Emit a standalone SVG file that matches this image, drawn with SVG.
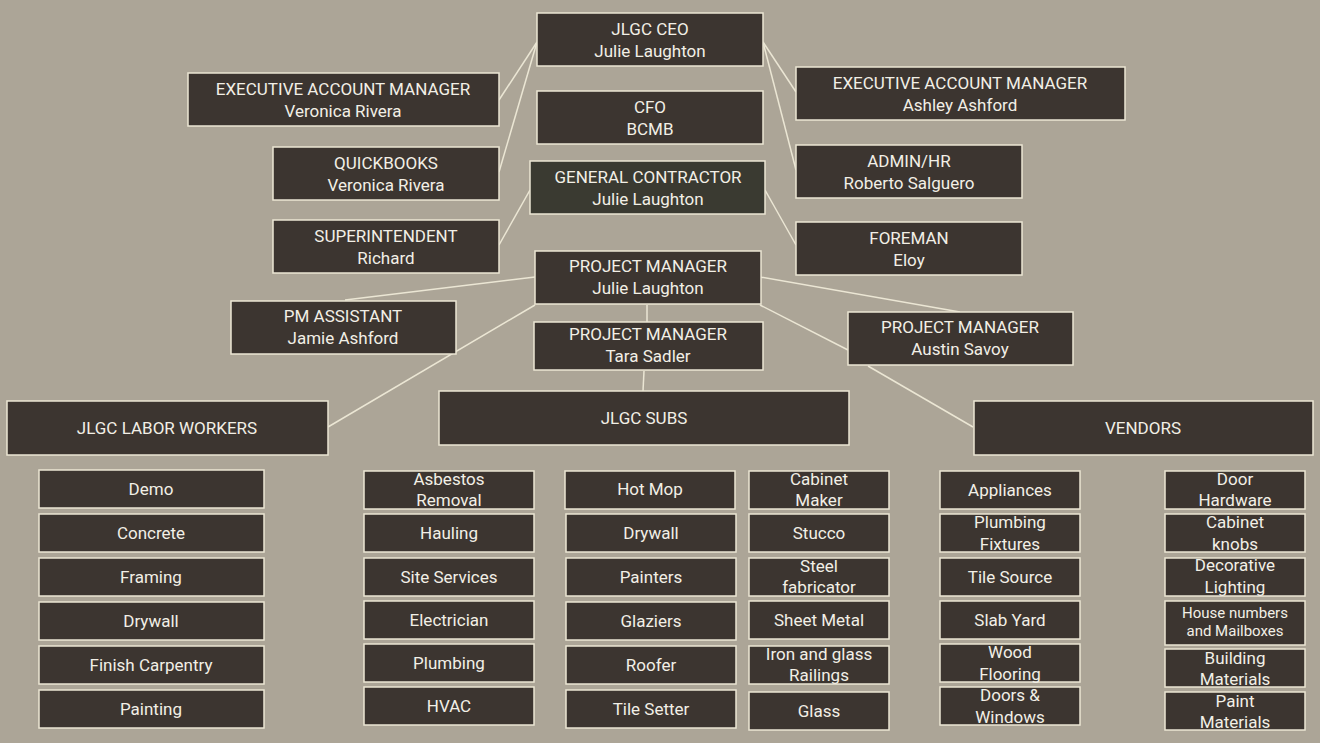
<svg xmlns="http://www.w3.org/2000/svg" width="1320" height="743" viewBox="0 0 1320 743">
<style>
.b{fill:#3c3530;stroke:#ebe6d4;stroke-width:1.5}
.g{fill:#3a3a31;stroke:#ebe6d4;stroke-width:1.5}
text{font-family:Roboto,"Liberation Sans",sans-serif;font-size:17px;fill:#f2efe6;text-anchor:middle}
.l{font-size:15px}
#c line{stroke:#ebe6d4;stroke-width:1.5}
</style>
<rect width="1320" height="743" fill="#aca597"/>
<g id="c">
<line x1="537" y1="42" x2="499" y2="100"/><line x1="537" y1="42" x2="499" y2="172"/>
<line x1="763" y1="42" x2="796" y2="92"/><line x1="763" y1="42" x2="796" y2="170"/>
<line x1="530" y1="190" x2="499" y2="245"/><line x1="765" y1="190" x2="796" y2="245"/>
<line x1="535" y1="277" x2="345" y2="300"/><line x1="760" y1="277" x2="960" y2="312"/>
<line x1="535" y1="305" x2="328" y2="427"/><line x1="647" y1="305" x2="647" y2="322"/>
<line x1="644" y1="371" x2="643" y2="391"/>
<line x1="760" y1="305" x2="848" y2="350"/><line x1="868" y1="366" x2="973" y2="427"/>
</g>
<g id="ceo"><rect class="b" x="537" y="13" width="226" height="53"/><text x="650" y="35">JLGC CEO</text><text x="650" y="57">Julie Laughton</text></g>
<g id="cfo"><rect class="b" x="537" y="91" width="226" height="53"/><text x="650" y="113">CFO</text><text x="650" y="135">BCMB</text></g>
<g id="gc"><rect class="g" x="530" y="161" width="235" height="53"/><text x="648" y="183">GENERAL CONTRACTOR</text><text x="648" y="205">Julie Laughton</text></g>
<g id="eam1"><rect class="b" x="188" y="73" width="311" height="53"/><text x="343" y="95">EXECUTIVE ACCOUNT MANAGER</text><text x="343" y="117">Veronica Rivera</text></g>
<g id="qb"><rect class="b" x="273" y="147" width="226" height="53"/><text x="386" y="169">QUICKBOOKS</text><text x="386" y="191">Veronica Rivera</text></g>
<g id="sup"><rect class="b" x="273" y="220" width="226" height="53"/><text x="386" y="242">SUPERINTENDENT</text><text x="386" y="264">Richard</text></g>
<g id="eam2"><rect class="b" x="796" y="67" width="329" height="53"/><text x="960" y="89">EXECUTIVE ACCOUNT MANAGER</text><text x="960" y="111">Ashley Ashford</text></g>
<g id="admin"><rect class="b" x="796" y="145" width="226" height="53"/><text x="909" y="167">ADMIN/HR</text><text x="909" y="189">Roberto Salguero</text></g>
<g id="fore"><rect class="b" x="796" y="222" width="226" height="53"/><text x="909" y="244">FOREMAN</text><text x="909" y="266">Eloy</text></g>
<g id="pm1"><rect class="b" x="535" y="251" width="226" height="53"/><text x="648" y="272">PROJECT MANAGER</text><text x="648" y="294">Julie Laughton</text></g>
<g id="pma"><rect class="b" x="231" y="301" width="225" height="53"/><text x="343" y="322">PM ASSISTANT</text><text x="343" y="344">Jamie Ashford</text></g>
<g id="pm2"><rect class="b" x="534" y="322" width="229" height="48"/><text x="648" y="340">PROJECT MANAGER</text><text x="648" y="362">Tara Sadler</text></g>
<g id="pm3"><rect class="b" x="848" y="312" width="225" height="53"/><text x="960" y="333">PROJECT MANAGER</text><text x="960" y="355">Austin Savoy</text></g>
<g id="labor"><rect class="b" x="7" y="401" width="321" height="54"/><text x="167" y="434">JLGC LABOR WORKERS</text></g>
<g id="subs"><rect class="b" x="439" y="391" width="410" height="54"/><text x="644" y="424">JLGC SUBS</text></g>
<g id="vend"><rect class="b" x="974" y="401" width="339" height="54"/><text x="1143" y="434">VENDORS</text></g>
<g id="l1"><rect class="b" x="39" y="470" width="225" height="38"/><text x="151" y="495">Demo</text></g>
<g id="l2"><rect class="b" x="39" y="514" width="225" height="38"/><text x="151" y="539">Concrete</text></g>
<g id="l3"><rect class="b" x="39" y="558" width="225" height="38"/><text x="151" y="583">Framing</text></g>
<g id="l4"><rect class="b" x="39" y="602" width="225" height="38"/><text x="151" y="627">Drywall</text></g>
<g id="l5"><rect class="b" x="39" y="646" width="225" height="38"/><text x="151" y="671">Finish Carpentry</text></g>
<g id="l6"><rect class="b" x="39" y="690" width="225" height="38"/><text x="151" y="715">Painting</text></g>
<g id="s1"><rect class="b" x="364" y="471" width="170" height="38"/><text x="449" y="485">Asbestos</text><text x="449" y="506">Removal</text></g>
<g id="s2"><rect class="b" x="364" y="514" width="170" height="38"/><text x="449" y="539">Hauling</text></g>
<g id="s3"><rect class="b" x="364" y="558" width="170" height="38"/><text x="449" y="583">Site Services</text></g>
<g id="s4"><rect class="b" x="364" y="601" width="170" height="38"/><text x="449" y="626">Electrician</text></g>
<g id="s5"><rect class="b" x="364" y="644" width="170" height="38"/><text x="449" y="669">Plumbing</text></g>
<g id="s6"><rect class="b" x="364" y="687" width="170" height="38"/><text x="449" y="712">HVAC</text></g>
<g id="t1"><rect class="b" x="565" y="471" width="170" height="38"/><text x="650" y="495">Hot Mop</text></g>
<g id="t2"><rect class="b" x="566" y="514" width="170" height="38"/><text x="651" y="539">Drywall</text></g>
<g id="t3"><rect class="b" x="566" y="558" width="170" height="38"/><text x="651" y="583">Painters</text></g>
<g id="t4"><rect class="b" x="566" y="602" width="170" height="38"/><text x="651" y="627">Glaziers</text></g>
<g id="t5"><rect class="b" x="566" y="646" width="170" height="38"/><text x="651" y="671">Roofer</text></g>
<g id="t6"><rect class="b" x="566" y="690" width="170" height="38"/><text x="651" y="715">Tile Setter</text></g>
<g id="u1"><rect class="b" x="749" y="471" width="140" height="38"/><text x="819" y="485">Cabinet</text><text x="819" y="506">Maker</text></g>
<g id="u2"><rect class="b" x="749" y="514" width="140" height="38"/><text x="819" y="539">Stucco</text></g>
<g id="u3"><rect class="b" x="749" y="558" width="140" height="38"/><text x="819" y="572">Steel</text><text x="819" y="593">fabricator</text></g>
<g id="u4"><rect class="b" x="749" y="601" width="140" height="38"/><text x="819" y="626">Sheet Metal</text></g>
<g id="u5"><rect class="b" x="749" y="646" width="140" height="38"/><text x="819" y="660">Iron and glass</text><text x="819" y="681">Railings</text></g>
<g id="u6"><rect class="b" x="749" y="692" width="140" height="38"/><text x="819" y="717">Glass</text></g>
<g id="v1"><rect class="b" x="940" y="471" width="140" height="38"/><text x="1010" y="496">Appliances</text></g>
<g id="v2"><rect class="b" x="940" y="514" width="140" height="38"/><text x="1010" y="528">Plumbing</text><text x="1010" y="550">Fixtures</text></g>
<g id="v3"><rect class="b" x="940" y="558" width="140" height="38"/><text x="1010" y="583">Tile Source</text></g>
<g id="v4"><rect class="b" x="940" y="601" width="140" height="38"/><text x="1010" y="626">Slab Yard</text></g>
<g id="v5"><rect class="b" x="940" y="644" width="140" height="38"/><text x="1010" y="658">Wood</text><text x="1010" y="680">Flooring</text></g>
<g id="v6"><rect class="b" x="940" y="687" width="140" height="38"/><text x="1010" y="701">Doors &amp;</text><text x="1010" y="723">Windows</text></g>
<g id="w1"><rect class="b" x="1165" y="471" width="140" height="38"/><text x="1235" y="485">Door</text><text x="1235" y="506">Hardware</text></g>
<g id="w2"><rect class="b" x="1165" y="514" width="140" height="38"/><text x="1235" y="528">Cabinet</text><text x="1235" y="550">knobs</text></g>
<g id="w3"><rect class="b" x="1165" y="558" width="140" height="38"/><text x="1235" y="571">Decorative</text><text x="1235" y="593">Lighting</text></g>
<g id="w4"><rect class="b" x="1165" y="601" width="140" height="44"/><text class="l" x="1235" y="618">House numbers</text><text class="l" x="1235" y="636">and Mailboxes</text></g>
<g id="w5"><rect class="b" x="1165" y="649" width="140" height="38"/><text x="1235" y="664">Building</text><text x="1235" y="685">Materials</text></g>
<g id="w6"><rect class="b" x="1165" y="692" width="140" height="38"/><text x="1235" y="707">Paint</text><text x="1235" y="728">Materials</text></g>
</svg>
